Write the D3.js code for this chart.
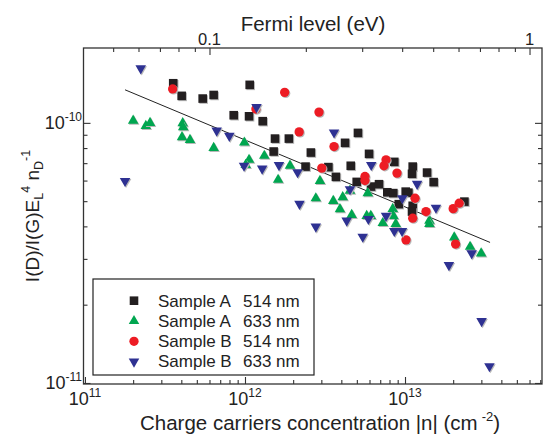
<!DOCTYPE html>
<html><head><meta charset="utf-8">
<script src="https://cdn.jsdelivr.net/npm/d3@7"></script>
<style>body{margin:0;background:#fff} svg{display:block;font-family:"Liberation Sans",Arial,sans-serif}</style>
</head><body><svg id="c" width="544" height="435"></svg>
<script>
// ---- data: [carrier concentration |n| (cm^-2), I(D)/I(G) E_L^4 n_D^-1] ----
const sampleA514 = [[3.56e11,1.42e-10],[1.07e12,1.40e-10],[4.02e11,1.27e-10],[5.44e11,1.24e-10],[6.37e11,1.28e-10],[8.5e11,1.07e-10],[1.06e12,1.06e-10],[1.29e12,1.015e-10],[1.54e12,8.70e-11],[1.88e12,8.70e-11],[1.51e12,7.76e-11],[2.58e12,7.69e-11],[2.39e12,6.79e-11],[5.08e12,9.15e-11],[4.22e12,8.38e-11],[5.96e12,7.60e-11],[8.57e12,7.08e-11],[3.32e12,6.76e-11],[4.58e12,6.84e-11],[1.117e13,6.79e-11],[3.70e12,6.20e-11],[1.106e13,6.37e-11],[1.373e13,6.44e-11],[1.51e13,5.92e-11],[4.99e12,5.93e-11],[6.13e12,5.69e-11],[6.88e12,5.81e-11],[7.75e12,5.41e-11],[8.45e12,5.37e-11],[1.01e13,5.44e-11],[1.05e13,5.39e-11],[9.14e12,4.87e-11],[1.117e13,4.80e-11],[1.106e13,4.56e-11],[2.35e13,4.98e-11]];
const sampleA633 = [[2.00e11,1.02e-10],[2.40e11,9.74e-11],[2.55e11,1.00e-10],[4.08e11,9.97e-11],[4.11e11,9.63e-11],[4.04e11,8.81e-11],[4.53e11,8.60e-11],[6.37e11,8.01e-11],[9.9e11,8.40e-11],[1.06e12,7.21e-11],[1.32e12,7.47e-11],[1.01e12,6.89e-11],[1.91e12,6.85e-11],[1.61e12,6.04e-11],[2.94e12,5.98e-11],[2.77e12,5.13e-11],[3.56e12,5.01e-11],[4.08e12,5.18e-11],[4.53e12,5.49e-11],[5.85e12,5.37e-11],[3.92e12,4.66e-11],[4.64e12,4.43e-11],[5.76e12,4.39e-11],[6.11e12,4.39e-11],[7.26e12,4.12e-11],[8.38e12,4.67e-11],[8.45e12,4.39e-11],[8.75e12,4.09e-11],[1.42e13,4.21e-11],[1.42e13,4.09e-11],[2.03e13,3.63e-11],[2.55e13,3.34e-11],[2.99e13,3.15e-11]];
const sampleB514 = [[3.53e11,1.35e-10],[1.77e12,1.31e-10],[1.17e12,1.13e-10],[2.18e12,9.23e-11],[2.90e12,1.10e-10],[3.60e12,8.11e-11],[3.02e12,6.70e-11],[7.61e12,7.21e-11],[7.39e12,6.84e-11],[8.91e12,6.41e-11],[5.62e12,6.22e-11],[5.62e12,6.00e-11],[1.155e13,5.13e-11],[1.352e13,4.56e-11],[1.117e13,4.30e-11],[2.00e13,4.68e-11],[2.18e13,4.91e-11],[1.014e13,3.55e-11],[2.07e13,3.42e-11]];
const sampleB633 = [[2.23e11,1.62e-10],[1.18e12,1.15e-10],[6.65e11,9.34e-11],[7.98e11,8.91e-11],[9.86e11,6.84e-11],[1.28e12,6.67e-11],[1.63e12,6.88e-11],[2.13e12,6.46e-11],[1.78e11,5.98e-11],[2.19e12,4.88e-11],[2.77e12,3.99e-11],[3.60e12,9.18e-11],[6.15e12,6.89e-11],[1.19e13,5.83e-11],[4.53e12,5.56e-11],[9.62e12,5.13e-11],[1.56e13,4.72e-11],[4.32e12,4.21e-11],[5.90e12,4.27e-11],[7.61e12,4.39e-11],[5.44e12,3.65e-11],[8.57e12,3.84e-11],[9.58e12,3.84e-11],[2.61e13,3.15e-11],[1.88e13,2.84e-11],[3.01e13,1.73e-11],[3.37e13,1.16e-11]];
const fitLine = [[1.78e11,1.34e-10],[3.4e13,3.47e-11]];

const legendSample = ["Sample A","Sample A","Sample B","Sample B"];
const legendWave = ["514 nm","633 nm","514 nm","633 nm"];
const xMajorTicks = [1e11,1e12,1e13];
const xTickExps = ["11","12","13"];
const yMajorTicks = [1e-11,1e-10];
const yTickExps = ["-11","-10"];
const fermiMajorTicks = [0.1,1];
const fermiTickLabels = ["0.1","1"];
const fermiMinorTicks = [0.05,0.06,0.07,0.08,0.09,0.2,0.3,0.4,0.5,0.6,0.7,0.8,0.9];

// ---- layout ----
const L=83.5,R=542,T=48,B=384;
const svg = d3.select('#c');
const x = d3.scaleLog().domain([9.79e10,7.18e13]).range([L,R]);
const y = d3.scaleLog().domain([9.91e-12,1.94e-10]).range([B,T]);
const fermi = d3.scaleLog().domain([0.1*Math.sqrt(9.79e10/6e11),0.1*Math.sqrt(7.18e13/6e11)]).range([L,R]);

function minors(scale){
  const [a,b]=scale.domain(); const out=[];
  for(let e=Math.floor(Math.log10(a));e<=Math.ceil(Math.log10(b));e++)
    for(let m=2;m<=9;m++){const v=m*Math.pow(10,e); if(v>=a&&v<=b) out.push(v);}
  return out;
}
const axisColor='#333';
function axisG(gen,tx,ty){
  const g=svg.append('g').attr('transform',`translate(${tx},${ty})`).call(gen);
  g.select('.domain').remove(); g.selectAll('text').remove();
  g.selectAll('line').attr('stroke',axisColor).attr('stroke-width',1.1);
  return g;
}
axisG(d3.axisBottom(x).tickValues(xMajorTicks).tickSize(-7),0,B);
axisG(d3.axisBottom(x).tickValues(minors(x)).tickSize(-4),0,B);
axisG(d3.axisTop(fermi).tickValues(fermiMajorTicks).tickSize(-7),0,T);
axisG(d3.axisTop(fermi).tickValues(fermiMinorTicks).tickSize(-4),0,T);
axisG(d3.axisLeft(y).tickValues(yMajorTicks).tickSize(-7),L,0);
axisG(d3.axisLeft(y).tickValues(minors(y)).tickSize(-4),L,0);
axisG(d3.axisRight(y).tickValues(yMajorTicks).tickSize(-7),R,0);
axisG(d3.axisRight(y).tickValues(minors(y)).tickSize(-4),R,0);
svg.append('rect').attr('x',L).attr('y',T).attr('width',R-L).attr('height',B-T)
  .attr('fill','none').attr('stroke',axisColor).attr('stroke-width',1.3);

// tick labels
xMajorTicks.forEach((v,i)=>{
  const t=svg.append('text').attr('x',x(v)).attr('y',405).attr('text-anchor','middle').attr('font-size',18).attr('fill','#222');
  t.append('tspan').text('10');
  t.append('tspan').attr('dy',-8).attr('font-size',12).text(xTickExps[i]);
});
yMajorTicks.forEach((v,i)=>{
  const t=svg.append('text').attr('x',82).attr('y',y(v)+6.5).attr('text-anchor','end').attr('font-size',18).attr('fill','#222');
  t.append('tspan').text('10');
  t.append('tspan').attr('dy',-8).attr('font-size',12).text(yTickExps[i]);
});
fermiMajorTicks.forEach((v,i)=>{
  svg.append('text').attr('x',fermi(v)).attr('y',45).attr('text-anchor','middle').attr('font-size',16.5).attr('fill','#222').text(fermiTickLabels[i]);
});

// axis titles
svg.append('text').attr('x',313).attr('y',31).attr('text-anchor','middle').attr('font-size',20.5).attr('fill','#222').text('Fermi level (eV)');
const xt=svg.append('text').attr('x',320).attr('y',430).attr('text-anchor','middle').attr('font-size',20.5).attr('fill','#222');
xt.append('tspan').text('Charge carriers concentration |n| (cm');
xt.append('tspan').attr('dx',4).attr('dy',-9).attr('font-size',13).text('-2');
xt.append('tspan').attr('dy',9).text(')');
const yt=svg.append('text').attr('transform','translate(39,216) rotate(-90)').attr('text-anchor','middle').attr('font-size',19).attr('fill','#222');
yt.append('tspan').text('I(D)/I(G)E');
yt.append('tspan').attr('font-size',12.5).attr('dy',4).text('L');
yt.append('tspan').attr('font-size',12.5).attr('dy',-13).text('4');
yt.append('tspan').attr('dy',9).text(' n');
yt.append('tspan').attr('font-size',12.5).attr('dy',4).text('D');
yt.append('tspan').attr('font-size',12.5).attr('dy',-13).text('-1');

// fit line
svg.append('line').attr('x1',x(fitLine[0][0])).attr('y1',y(fitLine[0][1]))
  .attr('x2',x(fitLine[1][0])).attr('y2',y(fitLine[1][1])).attr('stroke','#222').attr('stroke-width',1);

// markers
const series=[
  {data:sampleA514,color:'#231f20',type:'square'},
  {data:sampleA633,color:'#00a650',type:'up'},
  {data:sampleB514,color:'#ed1c24',type:'circle'},
  {data:sampleB633,color:'#2e3192',type:'down'}
];
function shapePath(type){
  if(type==='square') return d3.symbol(d3.symbolSquare,74)();
  if(type==='circle') return d3.symbol(d3.symbolCircle,68)();
  return d3.symbol(d3.symbolTriangle,48)();
}
function drawMarker(g,type,cx,cy,color,shadow){
  const rot = type==='down' ? ' rotate(180)' : '';
  if(shadow) g.append('path').attr('d',shapePath(type)).attr('transform',`translate(${cx+1},${cy+1})${rot}`).attr('fill','#b8b8b8');
  g.append('path').attr('d',shapePath(type)).attr('transform',`translate(${cx},${cy})${rot}`).attr('fill',color);
}
const mg=svg.append('g');
series.forEach(s=>{ s.data.forEach(d=>drawMarker(mg,s.type,x(d[0]),y(d[1]),s.color,true)); });

// legend
svg.append('rect').attr('x',93).attr('y',279).attr('width',221).attr('height',96).attr('fill','#fff').attr('stroke','#222').attr('stroke-width',1.2);
series.forEach((s,i)=>{
  const cy=300.7+i*20.3;
  drawMarker(svg,s.type,134,cy,s.color,false);
  svg.append('text').attr('x',158).attr('y',cy+5.8).attr('font-size',17).attr('fill','#222').text(legendSample[i]);
  svg.append('text').attr('x',243).attr('y',cy+5.8).attr('font-size',17).attr('fill','#222').text(legendWave[i]);
});
</script></body></html>
